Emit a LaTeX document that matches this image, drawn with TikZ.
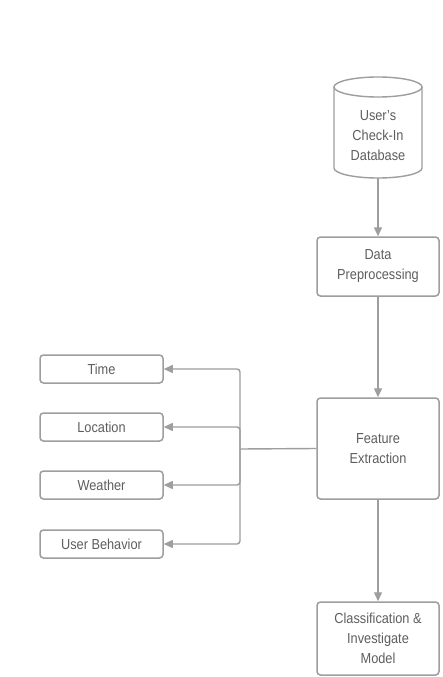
\documentclass[tikz,border=0pt]{standalone}
\usepackage{fontspec}
\setmainfont{Liberation Sans}[FakeStretch=0.88]
\usetikzlibrary{arrows.meta}
\definecolor{ln}{HTML}{9E9E9E}
\definecolor{tx}{HTML}{5E5E5E}
\begin{document}
\begin{tikzpicture}[x=1pt,y=1pt,
  box/.style={draw=ln,line width=1.5pt,rounded corners=3.5pt,text=tx,align=center,font=\fontsize{14.5}{20}\selectfont,inner sep=0pt},
  arr/.style={draw=ln,line width=1.4pt,-{Triangle[length=9pt,width=8pt]}},
  ln/.style={draw=ln,line width=1.4pt}]
\useasboundingbox (0,0) rectangle (442,-677);
\fill[white] (0,0) rectangle (442,-677);
% database cylinder
\node[text=tx,align=center,font=\fontsize{14.5}{20}\selectfont,minimum width=88pt,minimum height=101pt,inner sep=0pt] (db) at (378,-136) {User's\\Check-In\\Database};
\draw[ln] (334,-87) -- (334,-168) arc[start angle=180,end angle=360,x radius=44,y radius=10] -- (422,-87);
\draw[ln] (378,-87) ellipse[x radius=44,y radius=10];
\node[box,minimum width=122pt,minimum height=59pt] (dp) at (378,-266.5) {Data\\Preprocessing};
\node[box,minimum width=122pt,minimum height=101pt] (fe) at (378,-448.5) {Feature\\Extraction};
\node[box,minimum width=122pt,minimum height=73pt] (cm) at (378,-638.5) {Classification \&\\Investigate\\Model};
\node[box,minimum width=123pt,minimum height=28pt] (time) at (101.5,-369) {Time};
\node[box,minimum width=123pt,minimum height=28pt] (loc) at (101.5,-427) {Location};
\node[box,minimum width=123pt,minimum height=28pt] (wea) at (101.5,-485) {Weather};
\node[box,minimum width=123pt,minimum height=28pt] (ub) at (101.5,-544) {User Behavior};
\draw[arr] (378,-178) -- (dp.north);
\draw[arr] (dp.south) -- (fe.north);
\draw[arr] (fe.south) -- (cm.north);
\coordinate (j) at (240,-449);
\draw[ln] (fe.west) -- (j);
\draw[arr,rounded corners=3pt] (j) |- (time.east);
\draw[arr,rounded corners=3pt] (j) |- (loc.east);
\draw[arr,rounded corners=3pt] (j) |- (wea.east);
\draw[arr,rounded corners=3pt] (j) |- (ub.east);
\end{tikzpicture}
\end{document}
